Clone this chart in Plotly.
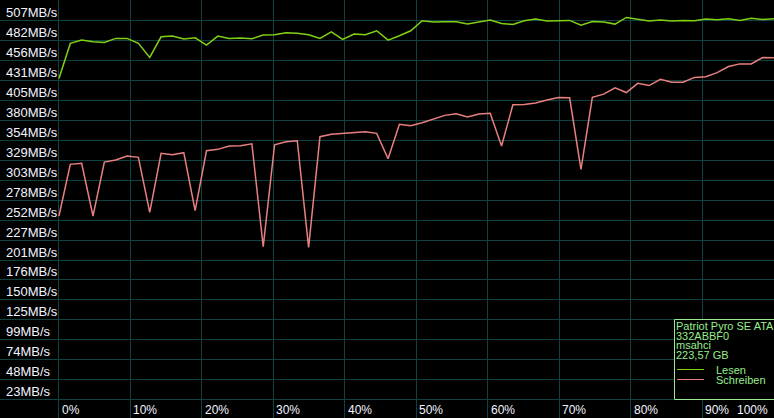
import numpy as np
import plotly.graph_objects as go

# ---------------- data (MB/s) ----------------
READ_MBS = [432.7, 477.3, 481.5, 479.4, 478.6, 483.7, 483.7, 477.3, 459.5, 485.7,
            486.6, 482.8, 484.5, 475.2, 486.6, 483.7, 484.1, 483.2, 487.9, 488.3,
            490.8, 490.1, 488.3, 483.7, 492.1, 482.4, 489.2, 488.3, 493.4, 481.5,
            487.0, 493.4, 506.1, 504.5, 504.8, 504.8, 501.9, 504.8, 507.0, 502.8,
            501.5, 506.1, 508.3, 505.7, 506.6, 506.6, 500.6, 505.3, 504.5, 501.9,
            510.4, 507.9, 505.7, 507.0, 505.7, 506.6, 506.1, 508.3, 507.4, 508.7,
            506.6, 509.2, 507.9, 508.7]

WRITE_MBS = [257.4, 323.2, 324.5, 257.4, 326.1, 328.7, 333.8, 332.1, 262.1, 337.2,
             335.4, 338.0, 264.1, 340.5, 342.3, 346.5, 346.9, 349.4, 218.3, 348.2,
             352.0, 353.3, 217.5, 358.4, 361.4, 362.4, 363.5, 364.7, 362.7, 330.3,
             374.2, 372.4, 376.2, 380.9, 385.6, 387.7, 383.5, 387.3, 388.2, 346.5,
             399.1, 399.6, 401.3, 405.1, 408.5, 408.0, 316.8, 408.5, 412.7, 420.8,
             414.7, 426.4, 423.6, 431.5, 427.8, 427.8, 434.0, 434.8, 440.1, 447.8,
             451.2, 451.2, 459.2, 459.0]

Y_TICK_LABELS = ["507MB/s", "482MB/s", "456MB/s", "431MB/s", "405MB/s", "380MB/s",
                 "354MB/s", "329MB/s", "303MB/s", "278MB/s", "252MB/s", "227MB/s",
                 "201MB/s", "176MB/s", "150MB/s", "125MB/s", "99MB/s", "74MB/s",
                 "48MB/s", "23MB/s"]
Y_TOP_LABEL_VALUE = 507
Y_BOTTOM_LABEL_VALUE = 23

X_TICK_VALUES = [0, 10, 20, 30, 40, 50, 60, 70, 80, 90, 100]
X_TICK_LABELS = ["0%", "10%", "20%", "30%", "40%", "50%", "60%", "70%", "80%", "90%", "100%"]

SERIES_NAMES = ["Lesen", "Schreiben"]
DRIVE_INFO = ["Patriot Pyro SE ATA", "332ABBF0", "msahci", "223,57 GB"]

# ---------------- styling / geometry ----------------
W, H = 774, 418
BG = "#000000"
GRID = "#0f4242"
READ_COLOR = "#80d014"
WRITE_COLOR = "#e88080"
TEXT = "#f2f4ff"
LEGEND_GREEN = "#98ec8c"
FONT = "Liberation Sans, Arial, sans-serif"

PX_X0 = 59.0          # pixel of 0 %
PX_PER_PCT = 7.155
n_rows = len(Y_TICK_LABELS) - 1
MB_STEP = (Y_TOP_LABEL_VALUE - Y_BOTTOM_LABEL_VALUE) / n_rows
x_range = [-PX_X0 / PX_PER_PCT, (W - PX_X0 + 0.6) / PX_PER_PCT]
y_range = [0, 532.6]

grid_vals = list(np.linspace(Y_BOTTOM_LABEL_VALUE, Y_TOP_LABEL_VALUE, len(Y_TICK_LABELS)))
grid_vals.append(Y_TOP_LABEL_VALUE + MB_STEP)
label_vals = grid_vals[:len(Y_TICK_LABELS)][::-1]

x_pct = np.linspace(0, 100, len(READ_MBS))


def px_x(px):
    return px / W


def px_y(py):
    return 1 - py / H


fig = go.Figure()
fig.add_trace(go.Scatter(x=x_pct, y=READ_MBS, mode="lines", name=SERIES_NAMES[0],
                         line=dict(color=READ_COLOR, width=1.5)))
fig.add_trace(go.Scatter(x=x_pct, y=WRITE_MBS, mode="lines", name=SERIES_NAMES[1],
                         line=dict(color=WRITE_COLOR, width=1.5)))

annotations = []
for val, txt in zip(label_vals, Y_TICK_LABELS):
    annotations.append(dict(x=0, xref="paper", xanchor="left", xshift=4,
                            y=val, yref="y", yanchor="middle", yshift=8,
                            text=txt, showarrow=False,
                            font=dict(family=FONT, size=13, color=TEXT)))
for val, txt in zip(X_TICK_VALUES, X_TICK_LABELS):
    last = val == X_TICK_VALUES[-1]
    annotations.append(dict(x=val, xref="x", xanchor="right" if last else "left",
                            xshift=-4 if last else 1,
                            y=px_y(409.5), yref="paper", yanchor="middle",
                            text=txt, showarrow=False,
                            font=dict(family=FONT, size=12, color=TEXT)))

# legend box
info_y = [325.5, 335.5, 345.0, 354.5]
for txt, py in zip(DRIVE_INFO, info_y):
    annotations.append(dict(x=px_x(675), xref="paper", xanchor="left",
                            y=px_y(py), yref="paper", yanchor="middle",
                            text=txt, showarrow=False, borderpad=0,
                            font=dict(family=FONT, size=11, color=LEGEND_GREEN)))
for name, py in zip(SERIES_NAMES, [370.0, 380.0]):
    annotations.append(dict(x=px_x(715), xref="paper", xanchor="left",
                            y=px_y(py), yref="paper", yanchor="middle",
                            text=name, showarrow=False, borderpad=0,
                            font=dict(family=FONT, size=11, color=LEGEND_GREEN)))

shapes = [
    dict(type="rect", xref="paper", yref="paper",
         x0=px_x(674.5), x1=px_x(790), y0=px_y(399.5), y1=px_y(319.5),
         fillcolor=BG, line=dict(color=LEGEND_GREEN, width=1), layer="above"),
    dict(type="line", xref="paper", yref="paper",
         x0=px_x(677), x1=px_x(704), y0=px_y(369.5), y1=px_y(369.5),
         line=dict(color=READ_COLOR, width=1), layer="above"),
    dict(type="line", xref="paper", yref="paper",
         x0=px_x(677), x1=px_x(704), y0=px_y(379.5), y1=px_y(379.5),
         line=dict(color=WRITE_COLOR, width=1), layer="above"),
]

fig.update_layout(
    width=W, height=H,
    margin=dict(l=0, r=0, t=0, b=0),
    paper_bgcolor=BG, plot_bgcolor=BG,
    showlegend=False,
    xaxis=dict(range=x_range, tickvals=X_TICK_VALUES, showticklabels=False,
               showgrid=True, gridcolor=GRID, gridwidth=1, zeroline=False,
               showline=False, fixedrange=True),
    yaxis=dict(range=y_range, tickvals=grid_vals, showticklabels=False,
               showgrid=True, gridcolor=GRID, gridwidth=1, zeroline=False,
               showline=False, fixedrange=True),
    annotations=annotations,
    shapes=shapes,
)

fig.write_html(
    "out.html",
    config={"displayModeBar": False, "staticPlot": True},
    post_script="document.body.style.margin='0';document.body.style.overflow='hidden';document.body.style.background='#000';",
)
